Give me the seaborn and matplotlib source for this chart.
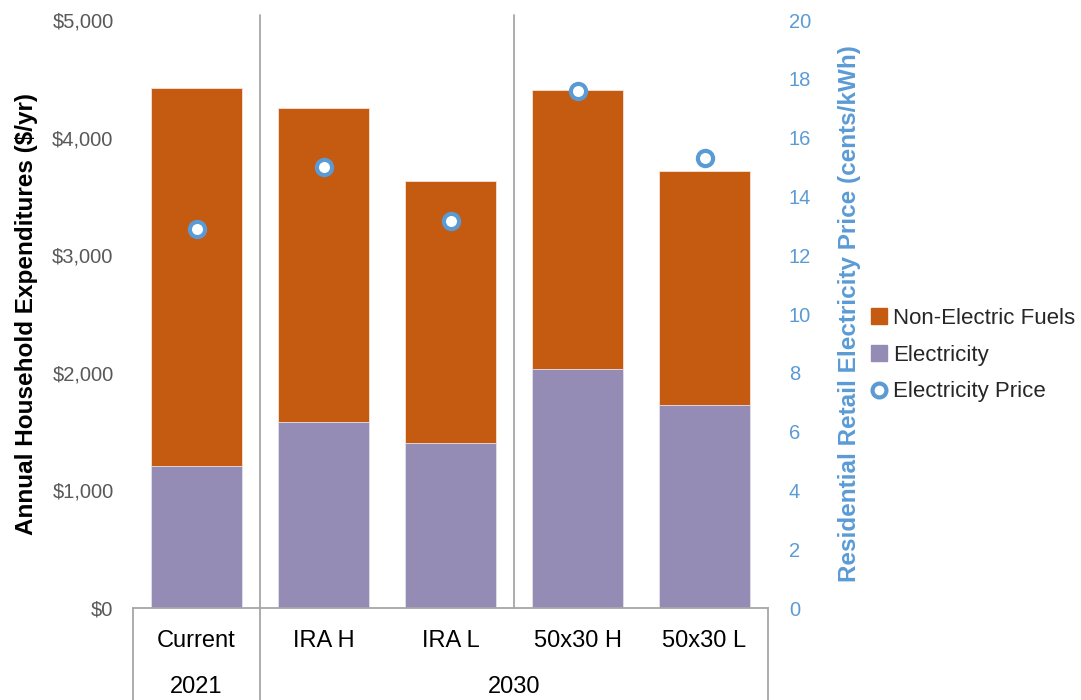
import matplotlib
matplotlib.use("Agg")
import matplotlib.pyplot as plt
import matplotlib.transforms as mtransforms
from matplotlib.lines import Line2D
import seaborn as sns
import pandas as pd
from matplotlib.ticker import FuncFormatter, MultipleLocator

# Scenario data
scenarios = ["Current", "IRA H", "IRA L", "50x30 H", "50x30 L"]
years = ["2021", "2030"]
electricity = [1210, 1585, 1405, 2035, 1725]          # $/yr
non_electric_fuels = [3215, 2665, 2230, 2370, 1995]   # $/yr
electricity_price = [12.9, 15.0, 13.15, 17.6, 15.3]   # cents/kWh

ORANGE = "#C55A11"
PURPLE = "#948CB4"
BLUE = "#5B9BD5"
GRAY_TXT = "#595959"
LINE = "#A6A6A6"

sns.set_theme(style="white")
plt.rcParams["font.family"] = ["Liberation Sans", "DejaVu Sans"]

df = pd.DataFrame({
    "scenario": scenarios,
    "electricity": electricity,
    "non_electric": non_electric_fuels,
    "price": electricity_price,
})
df["total"] = df["electricity"] + df["non_electric"]

fig = plt.figure(figsize=(10.81, 7.0), dpi=100)
ax = fig.add_axes([133 / 1081, 92 / 700, 635 / 1081, 588 / 700])

# Stacked bars: total first, electricity drawn over it
sns.barplot(data=df, x="scenario", y="total", color=ORANGE, width=0.71,
            saturation=1, ax=ax, edgecolor="#F2E3DA", linewidth=0.6)
sns.barplot(data=df, x="scenario", y="electricity", color=PURPLE, width=0.71,
            saturation=1, ax=ax, edgecolor="#E6E4EE", linewidth=0.6)

ax.set_xlim(-0.5, 4.5)
ax.set_ylim(0, 5000)
ax.yaxis.set_major_locator(MultipleLocator(1000))
ax.yaxis.set_major_formatter(FuncFormatter(lambda v, p: f"${v:,.0f}"))
ax.tick_params(axis="y", length=0, pad=14, labelsize=14.5, labelcolor=GRAY_TXT)
ax.set_xticks([])
ax.set_xlabel("")
ax.set_ylabel("Annual Household Expenditures ($/yr)", fontsize=17.5,
              fontweight="bold", color="black", labelpad=10)
for side in ["left", "right", "top"]:
    ax.spines[side].set_visible(False)
ax.spines["bottom"].set_color(LINE)
ax.spines["bottom"].set_linewidth(1.3)

# Secondary axis: electricity price
ax2 = ax.twinx()
sns.scatterplot(x=list(range(len(scenarios))), y=df["price"], ax=ax2,
                marker="o", s=120, facecolor="white", edgecolor=BLUE,
                linewidth=3, zorder=5, legend=False)
ax2.set_xlim(-0.5, 4.5)
ax2.set_ylim(0, 20)
ax2.yaxis.set_major_locator(MultipleLocator(2))
ax2.tick_params(axis="y", length=0, pad=15, labelsize=14.5, labelcolor=BLUE)
ax2.set_ylabel("Residential Retail Electricity Price (cents/kWh)", fontsize=17.5,
               fontweight="bold", color=BLUE, labelpad=19)
for side in ["left", "right", "top", "bottom"]:
    ax2.spines[side].set_visible(False)

# Category grid below the axis and group separators
trans = mtransforms.blended_transform_factory(ax.transData, ax.transAxes)
ax.plot([0.5, 0.5], [-0.16, 1.009], color=LINE, lw=1.3, transform=trans,
        clip_on=False, zorder=1)
ax.plot([2.5, 2.5], [0, 1.009], color=LINE, lw=1.3, transform=trans,
        clip_on=False, zorder=1)
for xv in [-0.5, 4.5]:
    ax.plot([xv, xv], [-0.16, 0], color=LINE, lw=1.3, transform=trans,
            clip_on=False)

for i, name in enumerate(scenarios):
    ax.text(i, -33 / 588, name, transform=trans, ha="center", va="center",
            fontsize=17, color="black")
ax.text(0, -79 / 588, years[0], transform=trans, ha="center", va="center",
        fontsize=17, color="black")
ax.text(2.5, -79 / 588, years[1], transform=trans, ha="center", va="center",
        fontsize=17, color="black")

handles = [
    Line2D([], [], marker="s", linestyle="none", markersize=11,
           markerfacecolor=ORANGE, markeredgecolor=ORANGE),
    Line2D([], [], marker="s", linestyle="none", markersize=11,
           markerfacecolor=PURPLE, markeredgecolor=PURPLE),
    Line2D([], [], marker="o", linestyle="none", markersize=10,
           markerfacecolor="white", markeredgecolor=BLUE, markeredgewidth=3),
]
fig.legend(handles, ["Non-Electric Fuels", "Electricity", "Electricity Price"],
           loc="center left", bbox_to_anchor=(870 / 1081, 1 - 355 / 700),
           frameon=False, fontsize=16, handlelength=0.8, handletextpad=0.25,
           labelspacing=0.72, borderaxespad=0, borderpad=0)

fig.savefig("out.png", dpi=100)
